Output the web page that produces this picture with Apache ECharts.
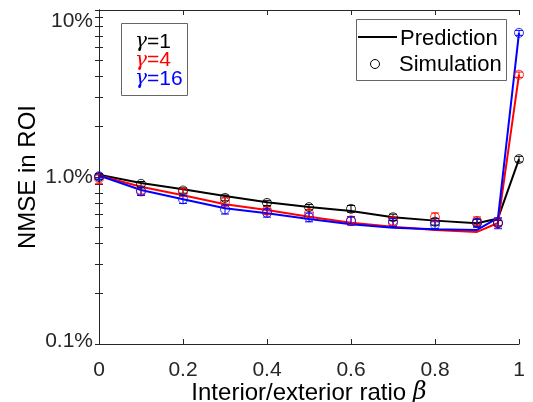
<!DOCTYPE html>
<html>
<head>
<meta charset="utf-8">
<script src="https://cdn.jsdelivr.net/npm/echarts@6/dist/echarts.min.js"></script>
<style>html,body{margin:0;padding:0;background:#fff}#c{width:533px;height:402px}</style>
</head>
<body>
<div id="c"></div>
<script>
// ---- data ----
const xVals = [0, 0.1, 0.2, 0.3, 0.4, 0.5, 0.6, 0.7, 0.8, 0.9, 0.95, 1];
// prediction (%), gamma = 1, 4, 16
const predG1  = [1.03, 0.92, 0.845, 0.77, 0.706, 0.661, 0.625, 0.575, 0.548, 0.528, 0.565, 1.28];
const predG4  = [1.02, 0.875, 0.777, 0.686, 0.634, 0.578, 0.533, 0.504, 0.482, 0.469, 0.53, 4.1];
const predG16 = [1.02, 0.836, 0.735, 0.65, 0.606, 0.56, 0.521, 0.497, 0.487, 0.482, 0.57, 7.3];
// simulation mean (%)
const simG1  = [1.0, 0.91, 0.83, 0.75, 0.70, 0.66, 0.645, 0.574, 0.54, 0.533, 0.53, 1.28];
const simG4  = [0.98, 0.83, 0.81, 0.71, 0.63, 0.607, 0.55, 0.545, 0.574, 0.546, 0.533, 4.1];
const simG16 = [1.01, 0.82, 0.735, 0.64, 0.61, 0.574, 0.545, 0.533, 0.52, 0.53, 0.53, 7.3];
// simulation error half-widths (%)
const errG1  = [0.03, 0.03, 0.03, 0.03, 0.025, 0.025, 0.03, 0.025, 0.025, 0.025, 0.02, 0.05];
const errG4  = [0.07, 0.04, 0.04, 0.04, 0.035, 0.03, 0.03, 0.03, 0.035, 0.03, 0.03, 0.15];
const errG16 = [0.04, 0.045, 0.04, 0.04, 0.035, 0.035, 0.03, 0.03, 0.03, 0.03, 0.04, 0.25];
// ticks
const xTicks = [0, 0.2, 0.4, 0.6, 0.8, 1];
const xTickLabels = ['0', '0.2', '0.4', '0.6', '0.8', '1'];
const yTickValues = [0.1, 1, 10];
const yTickLabels = ['0.1%', '1.0%', '10%'];
const yMinorTicks = [0.1,0.2,0.3,0.4,0.5,0.6,0.7,0.8,0.9,1,2,3,4,5,6,7,8,9,10];
const gammaLabels = ['1', '4', '16'];

const colors = ['#000000', '#ff0000', '#0000ff'];
const FONT = 'Liberation Sans, Arial, sans-serif';
const AX = '#262626';

const preds = [predG1, predG4, predG16];
const sims = [simG1, simG4, simG16];
const errs = [errG1, errG4, errG16];

function pair(ys){ return xVals.map((x,i)=>[x, ys[i]]); }

const series = [];
preds.forEach((p, k) => {
  series.push({
    type: 'line', data: pair(p), symbol: 'none', xAxisIndex: 0, yAxisIndex: 0,
    lineStyle: { color: colors[k], width: 2 }, z: 2 + k, animation: false
  });
});
sims.forEach((s, k) => {
  const e = errs[k];
  series.push({
    type: 'custom', xAxisIndex: 0, yAxisIndex: 0, z: 10 + k, animation: false,
    data: xVals.map((x,i)=>[x, s[i]-e[i], s[i]+e[i]]),
    encode: { x: 0, y: [1, 2] },
    renderItem: function(params, api){
      const x = api.value(0);
      const p1 = api.coord([x, api.value(2)]);
      const p2 = api.coord([x, api.value(1)]);
      const w = 4;
      const st = { stroke: colors[k], lineWidth: 1 };
      return { type: 'group', children: [
        { type: 'line', shape: { x1: p1[0], y1: p1[1], x2: p2[0], y2: p2[1] }, style: st },
        { type: 'line', shape: { x1: p1[0]-w, y1: p1[1], x2: p1[0]+w, y2: p1[1] }, style: st },
        { type: 'line', shape: { x1: p2[0]-w, y1: p2[1], x2: p2[0]+w, y2: p2[1] }, style: st }
      ]};
    }
  });
  series.push({
    type: 'scatter', data: pair(s), symbol: 'circle', symbolSize: 9, xAxisIndex: 0, yAxisIndex: 0,
    itemStyle: { color: 'rgba(0,0,0,0)', borderColor: colors[k], borderWidth: 1 }, z: 20 + k, animation: false
  });
});

const yCommon = {
  type: 'log', min: 0.1, max: 10, logBase: 10,
  axisLine: { show: true, lineStyle: { color: AX, width: 1 } },
  axisTick: { show: true, inside: true, length: 4, customValues: yMinorTicks, lineStyle: { color: AX } },
  splitLine: { show: false }, minorTick: { show: false }
};
// MATLAB nudges the edge labels inward; emulate with rich padding
const yLabelStyle = ['lo', 'mid', 'hi'];

const option = {
  animation: false,
  grid: { left: 99, right: 14, top: 10, bottom: 58, containLabel: false, outerBoundsMode: 'none' },
  xAxis: [{
    type: 'value', min: 0, max: 1, interval: 0.2, position: 'bottom',
    name: 'Interior/exterior ratio {b|β}', nameLocation: 'middle', nameGap: 37, nameMoveOverlap: false,
    nameTextStyle: { fontFamily: FONT, fontSize: 24, color: '#000', rich: { b: { fontFamily: 'DejaVu Serif', fontStyle: 'italic', fontSize: 24, color: '#000' } } },
    axisLine: { show: true, onZero: false, lineStyle: { color: AX, width: 1 } },
    axisTick: { show: true, inside: true, length: 5, lineStyle: { color: AX } },
    axisLabel: { fontFamily: FONT, fontSize: 21, color: AX, margin: 16,
      formatter: v => { const i = xTicks.findIndex(t => Math.abs(t - v) < 1e-9); return i >= 0 ? xTickLabels[i] : ''; } },
    splitLine: { show: false }
  }, {
    type: 'value', min: 0, max: 1, interval: 0.2, position: 'top',
    axisLine: { show: true, onZero: false, lineStyle: { color: AX, width: 1 } },
    axisTick: { show: true, inside: true, length: 5, lineStyle: { color: AX } },
    axisLabel: { show: false }, splitLine: { show: false }
  }],
  yAxis: [Object.assign({}, yCommon, {
    position: 'left',
    name: 'NMSE in ROI', nameLocation: 'middle', nameGap: 59, nameRotate: 90, nameMoveOverlap: false,
    nameTextStyle: { fontFamily: FONT, fontSize: 24, color: '#000' },
    axisLabel: { show: true, fontFamily: FONT, fontSize: 21, color: AX, margin: 6, customValues: yTickValues,
      rich: {
        lo:  { fontFamily: FONT, fontSize: 21, color: AX, padding: [0, 0, 6, 0] },
        mid: { fontFamily: FONT, fontSize: 21, color: AX, padding: [0, 0, 0, 0] },
        hi:  { fontFamily: FONT, fontSize: 21, color: AX, padding: [22, 0, 0, 0] }
      },
      formatter: v => { const i = yTickValues.findIndex(t => Math.abs(t - v) / t < 1e-6); return i >= 0 ? '{' + yLabelStyle[i] + '|' + yTickLabels[i] + '}' : ''; } }
  }), Object.assign({}, yCommon, {
    position: 'right', axisLabel: { show: false }
  })],
  graphic: [
    { type: 'rect', shape: { x: 121.5, y: 23.5, width: 66, height: 72 }, style: { fill: '#fff', stroke: '#666', lineWidth: 1 }, z: 50 },
    ...gammaLabels.map((g, k) => ({
      type: 'text', x: 135, y: 42 + k * 18.5, z: 51,
      style: { text: '{g|γ}{t|=' + g + '}', verticalAlign: 'middle',
        rich: { g: { fontFamily: 'DejaVu Serif', fontStyle: 'italic', fontSize: 20, fill: colors[k], color: colors[k] },
                t: { fontFamily: FONT, fontSize: 21, fill: colors[k], color: colors[k] } } }
    })),
    { type: 'rect', shape: { x: 356.5, y: 19.5, width: 150, height: 61 }, style: { fill: '#fff', stroke: '#666', lineWidth: 1 }, z: 50 },
    { type: 'line', shape: { x1: 358, y1: 37, x2: 397, y2: 37 }, style: { stroke: '#000', lineWidth: 2 }, z: 51 },
    { type: 'text', x: 400, y: 39, z: 51, style: { text: 'Prediction', fontFamily: FONT, fontSize: 22, fill: '#000', verticalAlign: 'middle' } },
    { type: 'circle', shape: { cx: 375, cy: 64, r: 4.5 }, style: { fill: 'none', stroke: '#000', lineWidth: 1 }, z: 51 },
    { type: 'text', x: 399, y: 65, z: 51, style: { text: 'Simulation', fontFamily: FONT, fontSize: 22, fill: '#000', verticalAlign: 'middle' } }
  ],
  series: series
};
const chart = echarts.init(document.getElementById('c'), null, { renderer: 'canvas' });
chart.setOption(option);
</script>
</body>
</html>
